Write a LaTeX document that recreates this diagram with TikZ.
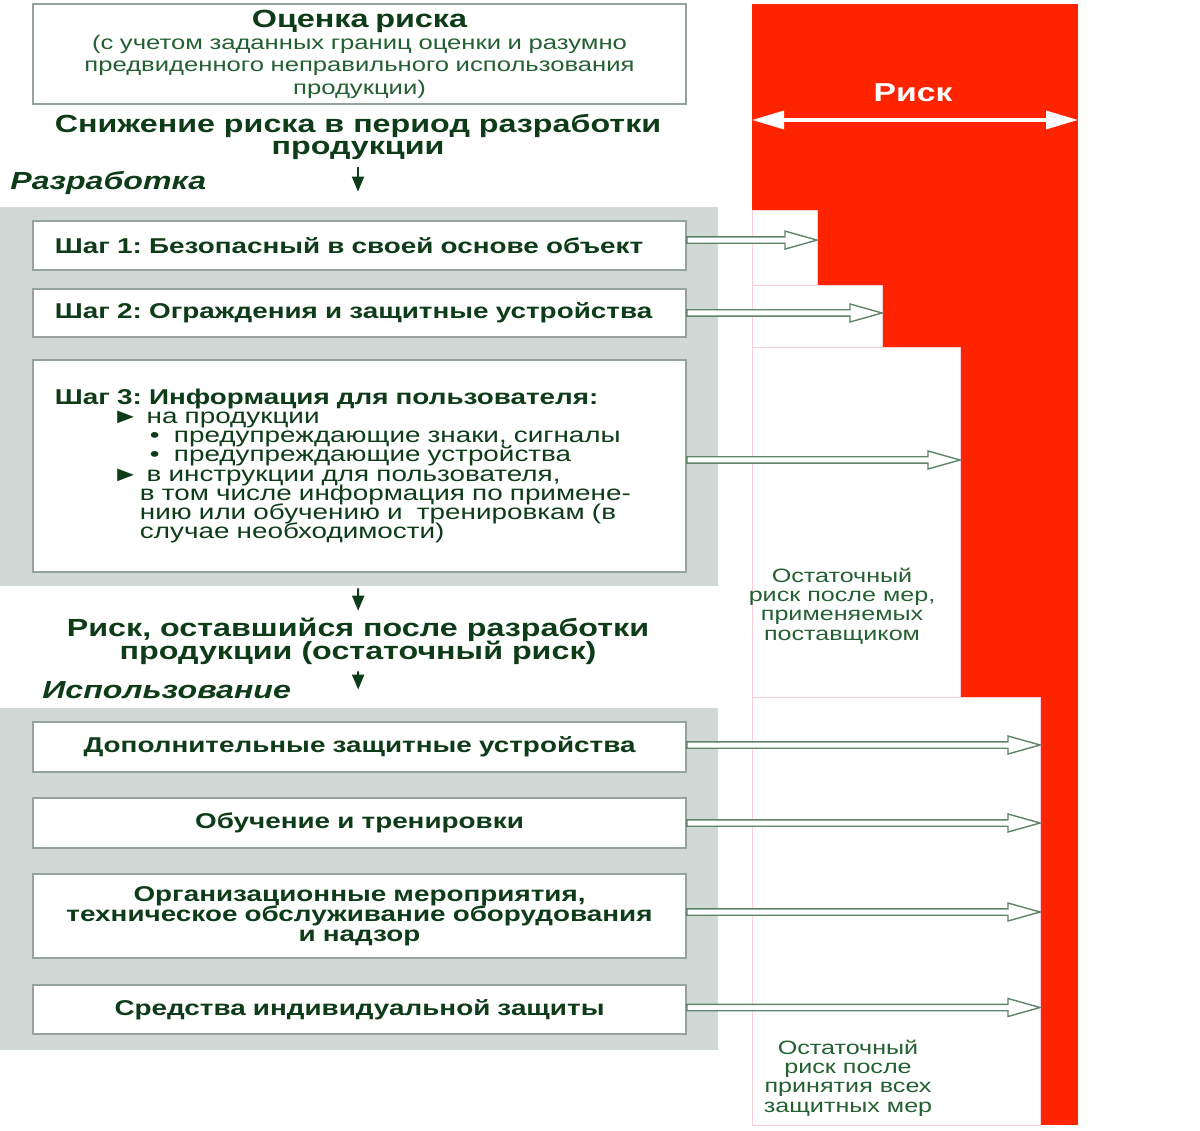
\documentclass[tikz,border=0pt]{standalone}
\usepackage{fontspec}
\setmainfont{Liberation Sans}[FakeStretch=1.3]
\usetikzlibrary{arrows.meta,calc}
\frenchspacing
\newcommand{\tightlines}{\lineskiplimit=-10pt\lineskip=0pt}

\definecolor{darkgreen}{RGB}{14,60,24}
\definecolor{textgreen}{RGB}{36,96,50}
\definecolor{panelgray}{RGB}{208,217,213}
\definecolor{boxgray}{RGB}{150,163,156}
\definecolor{riskred}{RGB}{255,36,0}
\definecolor{arrowgreen}{RGB}{95,132,106}
\definecolor{stepline}{RGB}{250,205,215}

\tikzset{
  panel/.style={fill=panelgray,minimum width=359bp,inner sep=0},
  box/.style={draw=boxgray,line width=0.8bp,fill=white,inner xsep=11bp,inner ysep=0,text width=304.5bp,text=darkgreen,font=\bfseries\fontsize{10.75}{10}\selectfont\tightlines},
  stepbox/.style={box,align=left},
  usebox/.style={box,align=center},
  head/.style={text=darkgreen,font=\bfseries\fontsize{12.45}{11.5}\selectfont\tightlines,align=center},
  phase/.style={text=darkgreen,font=\bfseries\itshape\fontsize{12.4}{12}\selectfont,anchor=west,inner sep=0},
  down/.style={darkgreen,line width=1bp,-{Triangle[length=7.5bp,width=6bp]}},
  hollow/.style={draw=arrowgreen,fill=white,line width=0.7bp,
    to path={let \p1=(\tikztostart),\p2=(\tikztotarget) in
      (\x1,\y1+1.6bp) -- (\x2-16bp,\y1+1.6bp) -- (\x2-16bp,\y1+4.5bp) -- (\x2,\y1)
      -- (\x2-16bp,\y1-4.5bp) -- (\x2-16bp,\y1-1.6bp) -- (\x1,\y1-1.6bp) -- cycle}},
  rest/.style={text=textgreen,font=\fontsize{9.7}{9.75}\selectfont\tightlines,align=center}
}

\begin{document}
\begin{tikzpicture}[x=0.5bp,y=-0.5bp]
\useasboundingbox (0,0) rectangle (1200,1131);
\fill[white] (0,0) rectangle (1200,1131);

% risk column with its steps
\fill[riskred] (752,4) rectangle (1078,1125);
\filldraw[fill=white,draw=stepline,line width=0.4bp] (752,210) rectangle (817,285);
\filldraw[fill=white,draw=stepline,line width=0.4bp] (752,285) rectangle (882,347);
\filldraw[fill=white,draw=stepline,line width=0.4bp] (752,347) rectangle (960,697);
\filldraw[fill=white,draw=stepline,line width=0.4bp] (752,697) rectangle (1040,1125);
\node[text=white,font=\bfseries\fontsize{13}{13}\selectfont] (risk) at (913,93) {Риск};
\coordinate (rl) at (752,120);
\coordinate (rr) at (1078,120);
\draw[white,line width=1.6bp,{Triangle[length=16bp,width=9bp]}-{Triangle[length=16bp,width=9bp]}] (rl) -- (rr);
\coordinate (r1) at (817,240);
\coordinate (r2) at (882,313);
\coordinate (r3) at (960,460);
\coordinate (r4) at (1040,745);

% design stage
\node[box,align=center,minimum height=50bp,font=\fontsize{9.9}{11.25}\selectfont,text=textgreen] (eval) at (359.5,54)
  {{\bfseries\fontsize{12.5}{12}\selectfont\color{darkgreen}Оценка риска}\\
   (с учетом заданных границ оценки и разумно\\
   предвиденного неправильного использования\\
   продукции)};
\node[head] (cut) at (358,137) {Снижение риска в период разработки\\продукции};
\node[phase] (dev) at (10,183) {Разработка};
\node[panel,minimum height=189.5bp] (p1) at (359,396.5) {};
\node[stepbox,minimum height=24.5bp] (s1) at (359.5,245.5) {Шаг 1: Безопасный в своей основе объект};
\node[stepbox,minimum height=24bp] (s2) at (359.5,313) {Шаг 2: Ограждения и защитные устройства};
\node[stepbox,minimum height=106bp,font=\fontsize{10.75}{9.65}\selectfont\tightlines] (s3) at (359.5,466)
  {\textbf{Шаг 3: Информация для пользователя:}\\
   \hspace*{28.5bp}► на продукции\\
   \hspace*{47.5bp}•\ \ предупреждающие знаки, сигналы\\
   \hspace*{47.5bp}•\ \ предупреждающие устройства\\
   \hspace*{28.5bp}► в инструкции для пользователя,\\
   \hspace*{42.5bp}в том числе информация по примене-\\
   \hspace*{42.5bp}нию или обучению и\ \ тренировкам (в\\
   \hspace*{42.5bp}случае необходимости)};

% use stage
\node[head] (left) at (358,641) {Риск, оставшийся после разработки\\продукции (остаточный риск)};
\node[phase] (use) at (42,690) {Использование};
\node[panel,minimum height=171bp] (p2) at (359,879) {};
\node[usebox,minimum height=25bp] (u1) at (359.5,747) {Дополнительные защитные устройства};
\node[usebox,minimum height=25bp] (u2) at (359.5,823) {Обучение и тренировки};
\node[usebox,minimum height=42bp] (u3) at (359.5,916) {Организационные мероприятия,\\техническое обслуживание оборудования\\и надзор};
\node[usebox,minimum height=24.5bp] (u4) at (359.5,1009.5) {Средства индивидуальной защиты};

\node[rest] (rest1) at (842,606) {Остаточный\\риск после мер,\\применяемых\\поставщиком};
\node[rest] (rest2) at (848,1078) {Остаточный\\риск после\\принятия всех\\защитных мер};

% flow
\draw[down,shorten >=7.5bp] (cut.south) -- (cut.south |- p1.north);
\draw[down,shorten <=1bp] (p1) -- (left);
\draw[down,shorten >=9bp] (left) -- (p2);

% measures against the risk
\draw[hollow] ([yshift=2.7bp]s1.east) to (r1);
\draw[hollow] (s2.east) to (r2);
\draw[hollow] ([yshift=3bp]s3.east) to (r3);
\draw[hollow] ([yshift=1bp]u1.east) to (r4);
\draw[hollow] (u2.east) to (r4);
\draw[hollow] ([yshift=2bp]u3.east) to (r4);
\draw[hollow] ([yshift=1bp]u4.east) to (r4);
\end{tikzpicture}
\end{document}
